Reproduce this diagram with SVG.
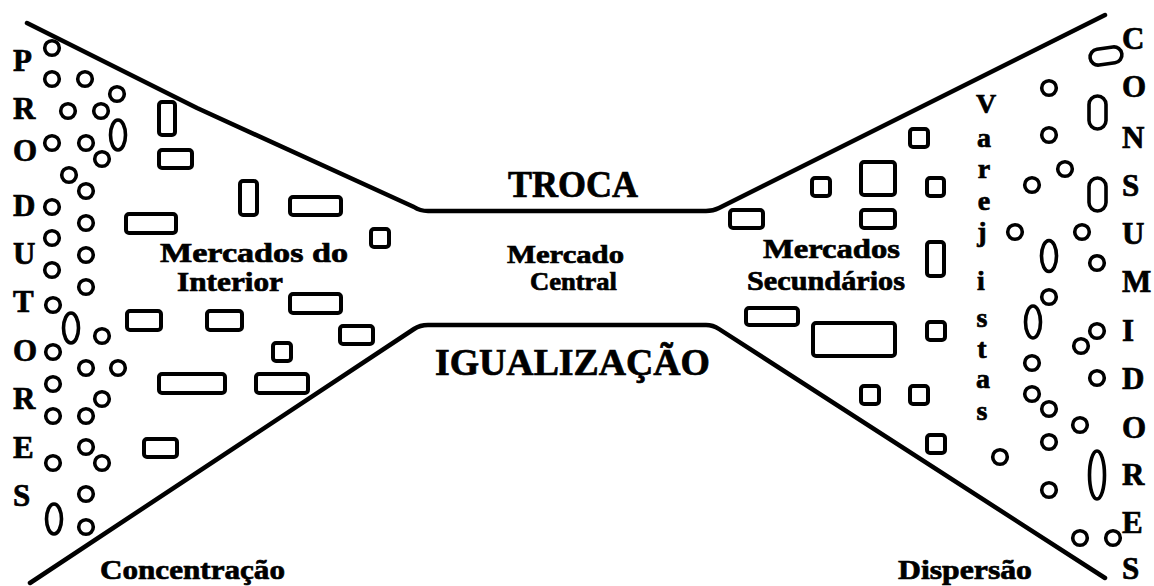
<svg xmlns="http://www.w3.org/2000/svg" width="1154" height="586" viewBox="0 0 1154 586">
<style>
.ln{fill:none;stroke:#000;stroke-width:4.5;stroke-linecap:round;stroke-linejoin:round}
.c{fill:none;stroke:#000;stroke-width:3.6}
.r{fill:none;stroke:#000;stroke-width:4}
text{font-family:"Liberation Serif","Times New Roman",serif;font-weight:bold;fill:#000;stroke:#000;stroke-width:0.7}
.big{font-size:37px}
.lbl{font-size:28px}
.mc{font-size:26px}
.cap{font-size:31px}
.vl{font-size:28px}
</style>
<rect width="1154" height="586" fill="#fff"/>
<g id="funnel">
<path class="ln" d="M27,23 L197,108 L414,207 Q420,211 428,211 L706,211 Q713,211 719,208 L1105,15"/>
<path class="ln" d="M30,583 L414,329 Q420,325 428,325 L706,325 Q713,325 719,329 L1105,578"/>
</g>
<g id="produtores">
<text class="cap" x="13" y="71">P</text>
<text class="cap" x="13" y="119">R</text>
<text class="cap" x="13" y="161">O</text>
<text class="cap" x="13" y="216">D</text>
<text class="cap" x="13" y="264">U</text>
<text class="cap" x="13" y="312">T</text>
<text class="cap" x="13" y="361">O</text>
<text class="cap" x="13" y="409">R</text>
<text class="cap" x="13" y="458">E</text>
<text class="cap" x="13" y="506">S</text>
</g>
<g id="produtores-circles">
<circle class="c" cx="52" cy="48" r="7.3"/>
<circle class="c" cx="52" cy="79" r="7.3"/>
<circle class="c" cx="85" cy="79" r="7.3"/>
<circle class="c" cx="117" cy="94" r="7.3"/>
<circle class="c" cx="68" cy="111" r="7.3"/>
<circle class="c" cx="101" cy="111" r="7.3"/>
<ellipse class="c" cx="118" cy="135" rx="7.5" ry="15"/>
<circle class="c" cx="52" cy="143" r="7.3"/>
<circle class="c" cx="86" cy="143" r="7.3"/>
<circle class="c" cx="102" cy="159" r="7.3"/>
<circle class="c" cx="69" cy="175" r="7.3"/>
<circle class="c" cx="86" cy="191" r="7.3"/>
<circle class="c" cx="52" cy="207" r="7.3"/>
<circle class="c" cx="86" cy="223" r="7.3"/>
<circle class="c" cx="52" cy="238" r="7.3"/>
<circle class="c" cx="86" cy="255" r="7.3"/>
<circle class="c" cx="52" cy="270" r="7.3"/>
<circle class="c" cx="86" cy="287" r="7.3"/>
<circle class="c" cx="53" cy="305" r="7.3"/>
<ellipse class="c" cx="71" cy="328" rx="7.5" ry="15"/>
<circle class="c" cx="102" cy="336" r="7.3"/>
<circle class="c" cx="53" cy="352" r="7.3"/>
<circle class="c" cx="86" cy="368" r="7.3"/>
<circle class="c" cx="118" cy="368" r="7.3"/>
<circle class="c" cx="53" cy="384" r="7.3"/>
<circle class="c" cx="102" cy="399" r="7.3"/>
<circle class="c" cx="53" cy="416" r="7.3"/>
<circle class="c" cx="86" cy="416" r="7.3"/>
<circle class="c" cx="86" cy="447" r="7.3"/>
<circle class="c" cx="102" cy="463" r="7.3"/>
<circle class="c" cx="53" cy="463" r="7.3"/>
<circle class="c" cx="86" cy="494" r="7.3"/>
<ellipse class="c" cx="54" cy="519" rx="7.5" ry="15"/>
<circle class="c" cx="86" cy="527" r="7.3"/>
</g>
<g id="mercados-interior">
<rect class="r" x="159" y="102" width="16" height="33" rx="3"/>
<rect class="r" x="159" y="150" width="33" height="18" rx="3"/>
<rect class="r" x="240" y="181" width="17" height="34" rx="3"/>
<rect class="r" x="290" y="197" width="51" height="18" rx="3"/>
<rect class="r" x="126" y="214" width="50" height="19" rx="3"/>
<rect class="r" x="371" y="229" width="18" height="18" rx="3"/>
<rect class="r" x="290" y="294" width="51" height="19" rx="3"/>
<rect class="r" x="127" y="311" width="34" height="19" rx="3"/>
<rect class="r" x="207" y="311" width="35" height="19" rx="3"/>
<rect class="r" x="340" y="326" width="33" height="18" rx="3"/>
<rect class="r" x="273" y="343" width="18" height="18" rx="3"/>
<rect class="r" x="159" y="374" width="66" height="19" rx="3"/>
<rect class="r" x="256" y="374" width="52" height="19" rx="3"/>
<rect class="r" x="144" y="439" width="33" height="18" rx="3"/>
<text class="lbl" x="160" y="262" textLength="188" lengthAdjust="spacingAndGlyphs">Mercados do</text>
<text class="lbl" x="177" y="291" textLength="106" lengthAdjust="spacingAndGlyphs">Interior</text>
</g>
<g id="mercado-central">
<text class="big" x="508" y="197" textLength="130" lengthAdjust="spacingAndGlyphs">TROCA</text>
<text class="mc" x="507" y="263" textLength="117" lengthAdjust="spacingAndGlyphs">Mercado</text>
<text class="mc" x="530" y="290" textLength="87" lengthAdjust="spacingAndGlyphs">Central</text>
<text class="big" x="435" y="375" textLength="275" lengthAdjust="spacingAndGlyphs">IGUALIZAÇÃO</text>
</g>
<g id="mercados-secundarios">
<rect class="r" x="910" y="129" width="18" height="18" rx="3"/>
<rect class="r" x="812" y="178" width="18" height="18" rx="3"/>
<rect class="r" x="861" y="162" width="34" height="33" rx="3"/>
<rect class="r" x="927" y="178" width="17" height="18" rx="3"/>
<rect class="r" x="730" y="210" width="33" height="18" rx="3"/>
<rect class="r" x="861" y="210" width="34" height="18" rx="3"/>
<rect class="r" x="927" y="242" width="17" height="34" rx="3"/>
<rect class="r" x="746" y="308" width="52" height="17" rx="3"/>
<rect class="r" x="813" y="323" width="82" height="33" rx="3"/>
<rect class="r" x="927" y="322" width="18" height="18" rx="3"/>
<rect class="r" x="861" y="386" width="18" height="18" rx="3"/>
<rect class="r" x="910" y="386" width="18" height="18" rx="3"/>
<rect class="r" x="927" y="435" width="18" height="18" rx="3"/>
<text class="lbl" x="763" y="258" textLength="137" lengthAdjust="spacingAndGlyphs">Mercados</text>
<text class="lbl" x="747" y="290" textLength="158" lengthAdjust="spacingAndGlyphs">Secundários</text>
</g>
<g id="varejistas">
<text class="vl" x="986" y="113" text-anchor="middle">V</text>
<text class="vl" x="984" y="147" text-anchor="middle">a</text>
<text class="vl" x="984" y="178" text-anchor="middle">r</text>
<text class="vl" x="984" y="210" text-anchor="middle">e</text>
<text class="vl" x="982" y="241" text-anchor="middle">j</text>
<text class="vl" x="981" y="290" text-anchor="middle">i</text>
<text class="vl" x="982" y="327" text-anchor="middle">s</text>
<text class="vl" x="982" y="358" text-anchor="middle">t</text>
<text class="vl" x="983" y="388" text-anchor="middle">a</text>
<text class="vl" x="982" y="420" text-anchor="middle">s</text>
</g>
<g id="consumidores-circles">
<rect class="c" x="1090" y="48" width="32" height="16" rx="8" transform="rotate(-8 1106 56)"/>
<circle class="c" cx="1049" cy="88" r="7.3"/>
<rect class="c" x="1089" y="96" width="17" height="33" rx="8.5"/>
<circle class="c" cx="1049" cy="135" r="7.3"/>
<circle class="c" cx="1065" cy="169" r="7.3"/>
<circle class="c" cx="1032" cy="185" r="7.3"/>
<rect class="c" x="1089" y="178" width="17" height="33" rx="8.5"/>
<circle class="c" cx="1015" cy="232" r="7.3"/>
<circle class="c" cx="1082" cy="232" r="7.3"/>
<ellipse class="c" cx="1049" cy="256" rx="7.5" ry="15.5"/>
<circle class="c" cx="1097" cy="263" r="7.3"/>
<circle class="c" cx="1049" cy="297" r="7.3"/>
<ellipse class="c" cx="1033" cy="322" rx="7.5" ry="16"/>
<circle class="c" cx="1097" cy="331" r="7.3"/>
<circle class="c" cx="1081" cy="346" r="7.3"/>
<circle class="c" cx="1032" cy="363" r="7.3"/>
<circle class="c" cx="1097" cy="378" r="7.3"/>
<circle class="c" cx="1032" cy="394" r="7.3"/>
<circle class="c" cx="1049" cy="409" r="7.3"/>
<circle class="c" cx="1080" cy="425" r="7.3"/>
<circle class="c" cx="1049" cy="442" r="7.3"/>
<circle class="c" cx="1000" cy="457" r="7.3"/>
<ellipse class="c" cx="1097" cy="475" rx="7.5" ry="24"/>
<circle class="c" cx="1049" cy="490" r="7.3"/>
<circle class="c" cx="1080" cy="538" r="7.3"/>
<circle class="c" cx="1113" cy="538" r="7.3"/>
</g>
<g id="consumidores">
<text class="cap" x="1122" y="49">C</text>
<text class="cap" x="1122" y="97">O</text>
<text class="cap" x="1122" y="148">N</text>
<text class="cap" x="1122" y="196">S</text>
<text class="cap" x="1122" y="244">U</text>
<text class="cap" x="1122" y="292">M</text>
<text class="cap" x="1122" y="341">I</text>
<text class="cap" x="1122" y="389">D</text>
<text class="cap" x="1122" y="438">O</text>
<text class="cap" x="1122" y="485">R</text>
<text class="cap" x="1122" y="533">E</text>
<text class="cap" x="1122" y="579">S</text>
</g>
<g id="bottom-labels">
<text class="lbl" x="100" y="579" textLength="185" lengthAdjust="spacingAndGlyphs">Concentração</text>
<text class="lbl" x="898" y="579" textLength="134" lengthAdjust="spacingAndGlyphs">Dispersão</text>
</g>
</svg>
